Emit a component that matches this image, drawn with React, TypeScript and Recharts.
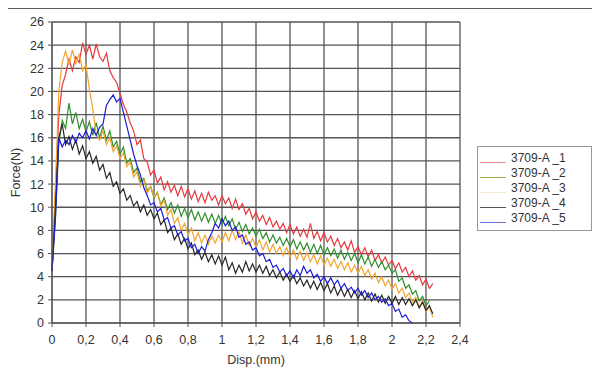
import { LineChart, Line, XAxis, YAxis, CartesianGrid, Label } from 'recharts';

const disp = [
  0, 0.02, 0.04, 0.06, 0.08, 0.1, 0.12, 0.14, 0.16, 0.18,
  0.2, 0.22, 0.24, 0.26, 0.28, 0.3, 0.32, 0.34, 0.36, 0.38,
  0.4, 0.42, 0.44, 0.46, 0.48, 0.5, 0.52, 0.54, 0.56, 0.58,
  0.6, 0.62, 0.64, 0.66, 0.68, 0.7, 0.72, 0.74, 0.76, 0.78,
  0.8, 0.82, 0.84, 0.86, 0.88, 0.9, 0.92, 0.94, 0.96, 0.98,
  1, 1.02, 1.04, 1.06, 1.08, 1.1, 1.12, 1.14, 1.16, 1.18,
  1.2, 1.22, 1.24, 1.26, 1.28, 1.3, 1.32, 1.34, 1.36, 1.38,
  1.4, 1.42, 1.44, 1.46, 1.48, 1.5, 1.52, 1.54, 1.56, 1.58,
  1.6, 1.62, 1.64, 1.66, 1.68, 1.7, 1.72, 1.74, 1.76, 1.78,
  1.8, 1.82, 1.84, 1.86, 1.88, 1.9, 1.92, 1.94, 1.96, 1.98,
  2, 2.02, 2.04, 2.06, 2.08, 2.1, 2.12, 2.14, 2.16, 2.18,
  2.2, 2.22, 2.24,
];

const sample1 = [
  4.5, 11, 18, 20.5, 21.5, 22.8, 21.8, 23, 22.5, 24.2,
  23.2, 24, 22.8, 24.1, 23, 22.6, 23.3, 21.8, 21.2, 20.8,
  19.8, 18.9, 18.2, 17.3, 16.6, 15.4, 15.8, 14.2, 13.9, 12.8,
  13.2, 12.1, 12.6, 11.5, 12.2, 11.3, 11.9, 11, 11.8, 10.9,
  11.6, 10.7, 11.4, 10.5, 11.2, 10.4, 11.3, 10.6, 11, 10.2,
  11, 10.3, 10.8, 9.9, 10.7, 9.8, 10.3, 9.4, 9.9, 9,
  9.6, 8.8, 9.3, 8.5, 9.1, 8.3, 8.8, 8.1, 8.6, 7.8,
  8.5, 7.7, 8.3, 7.5, 8.1, 7.4, 8.6, 7.3, 7.9, 7.1,
  7.8, 7, 7.5, 6.7, 7.3, 6.5, 7, 6.3, 7.1, 6.1,
  6.6, 5.9, 6.5, 5.7, 6.3, 5.4, 5.9, 5.2, 5.7, 5,
  5.4, 4.7, 5.2, 4.4, 4.8, 4, 4.5, 3.7, 4.1, 3.3,
  3.8, 3, 3.4,
];

const sample2 = [
  4.5, 9, 15.5, 17.5, 16.8, 19, 17.2, 18.2, 16.8, 17.6,
  16.5, 17.4, 16.2, 17.3, 16, 17, 15.8, 16.6, 15.2, 15.7,
  14.6, 15.2, 13.8, 14.2, 13, 13.4, 12.2, 12.5, 11.4, 11.8,
  10.8, 11.3, 10.2, 10.8, 9.8, 10.4, 9.5, 10.2, 9.2, 9.9,
  9.1, 9.8, 8.9, 9.6, 8.8, 9.5, 8.7, 9.4, 8.6, 9.3,
  8.5, 9.2, 8.4, 9, 8.1, 8.7, 7.9, 8.5, 7.7, 8.2,
  7.5, 8.1, 7.3, 7.8, 7, 7.6, 6.9, 7.4, 6.7, 7.3,
  6.6, 7.2, 6.4, 7, 6.3, 6.9, 6.1, 6.8, 6, 6.7,
  5.9, 6.5, 5.8, 6.4, 5.6, 6.3, 5.5, 6.1, 5.4, 6,
  5.2, 5.9, 5.1, 5.7, 4.9, 5.5, 4.8, 5.3, 4.6, 5,
  4.3, 4.6, 3.6, 3.9, 3, 3.3, 2.5, 2.8, 1.9, 2.3,
  1.5, 1.9, null,
];

const sample3 = [
  4.5, 12, 20, 22.5, 23.5, 22.3, 23.6, 22.4, 23.2, 21.8,
  22.3, 20.2, 18.5, 16.3, 15.8, 16.6, 15.4, 16, 14.8, 15.3,
  14.2, 14.7, 13.5, 13.9, 12.6, 13.1, 11.8, 12.4, 11.2, 11.8,
  10.9, 11.3, 10.1, 10.6, 9.3, 9.8, 8.6, 9.1, 8, 8.6,
  7.6, 8.2, 7.1, 7.8, 6.9, 7.6, 6.8, 7.5, 6.9, 7.6,
  7, 7.8, 7.1, 8, 7.2, 7.9, 6.9, 7.6, 6.7, 7.3,
  6.5, 7.2, 6.3, 7, 6.1, 6.8, 6, 6.6, 5.8, 6.5,
  5.7, 6.3, 5.5, 6.2, 5.4, 6.1, 5.3, 5.9, 5.1, 5.8,
  5, 5.6, 4.9, 5.5, 4.7, 5.3, 4.6, 5.2, 4.4, 5,
  4.3, 4.9, 4.1, 4.6, 3.8, 4.3, 3.5, 4, 3.2, 3.7,
  2.9, 3.4, 2.6, 3, 2.2, 2.6, 1.8, 2.2, 1.4, 1.9,
  1, 1.4, 0.5,
];

const sample4 = [
  4.5, 10, 16, 17.2, 15.4, 16.1, 15, 15.8, 14.6, 15.3,
  14.2, 14.8, 13.8, 14.4, 13.2, 13.7, 12.5, 13, 11.8, 12.2,
  11.2, 11.6, 10.6, 11, 10.1, 10.5, 9.6, 10.2, 9.3, 9.8,
  9, 9.5, 8.5, 8.9, 7.8, 8.2, 7.2, 7.7, 6.8, 7.3,
  6.4, 6.9, 5.9, 6.3, 5.5, 6.1, 5.3, 5.9, 5.1, 5.8,
  5, 5.7, 4.6, 5.2, 4.3, 5, 4.4, 5.3, 4.5, 5.1,
  4.4, 5, 4.3, 4.9, 4.1, 4.6, 3.9, 4.4, 3.7, 4.2,
  3.6, 4.1, 3.4, 3.9, 3.2, 3.7, 3, 3.6, 2.9, 3.5,
  2.8, 3.4, 2.6, 3.2, 2.4, 3, 2.3, 2.9, 2.2, 2.8,
  2.1, 2.7, 2, 2.6, 1.9, 2.5, 1.8, 2.4, 1.7, 2.3,
  1.7, 2.3, 1.6, 2.2, 1.6, 2.1, 1.5, 2, 1.3, 1.8,
  1.1, 1.5, 0.8,
];

const sample5 = [
  4.5, 9, 16, 15.2, 15.8, 15.4, 16.2, 15.6, 16.4, 16,
  16.6, 15.9, 16.8, 16.2, 16.9, 17.2, 18.8, 19.3, 19.7, 19.1,
  19.4, 18.2, 17, 15.8, 14.6, 13.6, 12.8, 11.7, 11, 10.2,
  10.4, 9.6, 9.9, 8.9, 9.1, 8.2, 8.4, 7.6, 7.9, 7.1,
  7.3, 6.5, 6.8, 6, 6.6, 6.2, 7.2, 7.8, 8.6, 8.2,
  9, 8.4, 8.8, 8, 8.3, 7.4, 7.6, 6.8, 7, 6.3,
  6.5, 5.8, 6, 5.3, 5.5, 4.8, 5, 4.4, 4.7, 4.1,
  4.5, 3.9, 4.6, 4.1, 4.9, 4.3, 4.6, 3.9, 4.2, 3.6,
  4, 3.4, 3.9, 3.3, 3.7, 3, 3.4, 2.8, 3.1, 2.6,
  3, 2.4, 2.8, 2.2, 2.6, 2, 2.3, 1.8, 2.1, 1.5,
  1.7, 1, 1.2, 0.5, 0.7, 0.2, 0, null, null, null,
  null, null, null,
];

const seriesNames = ['3709-A _1', '3709-A _2', '3709-A _3', '3709-A _4', '3709-A _5'];
const seriesColors = ['#e8383d', '#2f8f2a', '#f2a533', '#262626', '#1c1cd6'];
const legendColors = ['#f08a8d', '#9fb04a', '#f7ead0', '#555555', '#6f6fe0'];

const xTicks = [0, 0.2, 0.4, 0.6, 0.8, 1, 1.2, 1.4, 1.6, 1.8, 2, 2.2, 2.4];
const yTicks = [0, 2, 4, 6, 8, 10, 12, 14, 16, 18, 20, 22, 24, 26];

const rows = disp.map((d, i) => ({
  disp: d,
  s1: sample1[i],
  s2: sample2[i],
  s3: sample3[i],
  s4: sample4[i],
  s5: sample5[i],
}));

const fmt = (v: number) => String(v).replace('.', ',');
const font = 'Arial, "Liberation Sans", sans-serif';

function LegendBox() {
  return (
    <div
      style={{
        position: 'absolute',
        left: 469,
        top: 137,
        width: 111,
        border: '1px solid #9a9a9a',
        padding: '3px 0 5px 2px',
        fontFamily: font,
        fontSize: 12,
        color: '#333',
        background: '#fff',
      }}
    >
      {seriesNames.map((n, i) => (
        <div key={n} style={{ display: 'flex', alignItems: 'flex-end', height: 15 }}>
          <span
            style={{
              display: 'inline-block',
              width: 26,
              height: 1,
              marginBottom: 2,
              background: legendColors[i],
              marginRight: 5,
            }}
          />
          <span style={{ lineHeight: '14px', whiteSpace: 'nowrap' }}>{n}</span>
        </div>
      ))}
    </div>
  );
}

export default function App() {
  const tickStyle = { fontSize: 12.5, fill: '#333', fontFamily: font };
  return (
    <div style={{ position: 'relative', borderTop: '2px solid #5a5a5a', marginTop: -1, width: 592 }}>
      <LineChart
        width={592}
        height={364}
        data={rows}
        margin={{ top: 13, right: 140, bottom: 23, left: 14 }}
      >
        <CartesianGrid stroke="#555" strokeWidth={1.3} />
        <XAxis
          dataKey="disp"
          type="number"
          domain={[0, 2.4]}
          ticks={xTicks}
          tickFormatter={fmt}
          tick={tickStyle}
          tickSize={4}
          tickMargin={8}
          stroke="#555"
          height={27}
          interval={0}
        >
          <Label
            value="Disp.(mm)"
            position="insideBottom"
            offset={-14}
            style={{ fontSize: 12.5, fill: '#333', fontFamily: font }}
          />
        </XAxis>
        <YAxis
          type="number"
          domain={[0, 26]}
          ticks={yTicks}
          tick={tickStyle}
          tickSize={4}
          tickMargin={4}
          stroke="#555"
          width={30}
          interval={0}
        >
          <Label
            value="Force(N)"
            angle={-90}
            position="insideLeft"
            offset={-6}
            style={{ textAnchor: 'middle', fontSize: 12.5, fill: '#333', fontFamily: font }}
          />
        </YAxis>
        {['s1', 's2', 's3', 's4', 's5'].map((k, i) => (
          <Line
            key={k}
            dataKey={k}
            name={seriesNames[i]}
            stroke={seriesColors[i]}
            strokeWidth={1.2}
            dot={false}
            isAnimationActive={false}
            type="linear"
          />
        ))}
      </LineChart>
      <LegendBox />
    </div>
  );
}
